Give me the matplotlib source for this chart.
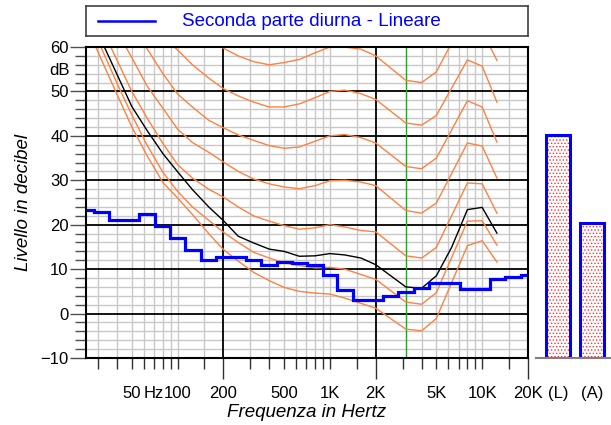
import matplotlib
matplotlib.use("Agg")
import matplotlib.pyplot as plt
import numpy as np
from matplotlib.ticker import FixedLocator, FixedFormatter

plt.rcParams['font.family'] = ['Liberation Sans', 'DejaVu Sans']
plt.rcParams['hatch.linewidth'] = 0.6

# Spettro misurato in bande di terzo d'ottava
bande = [25, 31.5, 40, 50, 63, 80, 100, 125, 160, 200,
         250, 315, 400, 500, 630, 800, 1000, 1250, 1600, 2000,
         2500, 3150, 4000, 5000, 6300, 8000, 10000, 12500, 16000, 20000]
livelli = [23.4, 22.8, 21.1, 21.0, 22.5, 19.7, 17.0, 14.4, 12.0, 12.7,
           12.8, 12.0, 11.0, 11.6, 11.3, 11.0, 8.6, 5.2, 3.0, 3.0,
           4.0, 4.9, 5.7, 6.8, 6.8, 5.6, 5.5, 7.7, 8.3, 8.7]

# Curve isofoniche (soglia, 10 ... 60 phon)
f_iso = [25, 31.5, 40, 50, 63, 80, 100, 125, 160, 200,
         250, 315, 400, 500, 630, 800, 1000, 1250, 1600, 2000,
         3150, 4000, 5000, 8000, 10000, 12500]
soglia = [65.0, 57.2, 49.3, 42.0, 35.5, 29.5, 26.0, 22.3, 18.0, 14.4,
          11.8, 9.3, 7.4, 5.9, 5.0, 4.6, 4.4, 3.5, 2.3, 1.2,
          -3.5, -3.9, -1.1, 15.3, 16.4, 11.6]
phon10 = [67.3, 59.8, 51.8, 44.7, 37.9, 31.8, 27.5, 24.0, 21.0, 18.3,
          16.0, 13.8, 12.5, 11.4, 10.8, 10.3, 10.4, 10.0, 8.8, 7.7,
          2.6, 2.1, 4.7, 20.8, 20.9, 15.4]
phon20 = [70.5, 64.5, 57.0, 50.0, 44.0, 38.3, 33.5, 30.5, 28.0, 26.2,
          24.0, 22.0, 20.8, 19.8, 19.0, 19.3, 20.0, 19.5, 18.7, 18.4,
          13.0, 12.5, 14.9, 29.4, 29.2, 22.6]
phon30 = [76.0, 69.9, 63.5, 57.6, 51.2, 46.2, 41.5, 38.5, 36.3, 34.1,
          32.0, 30.3, 29.2, 28.5, 28.1, 28.8, 29.9, 30.0, 29.6, 28.8,
          23.2, 22.6, 24.9, 38.4, 37.7, 30.5]
phon40 = [81.0, 75.7, 70.2, 65.0, 59.6, 54.0, 49.4, 46.5, 43.5, 41.8,
          40.2, 39.0, 37.8, 37.2, 37.5, 38.8, 40.0, 40.3, 39.6, 38.4,
          33.1, 32.6, 35.0, 47.9, 46.5, 38.6]
phon50 = [88.0, 83.0, 77.0, 71.5, 66.5, 62.3, 59.3, 56.0, 53.0, 50.6,
          49.0, 47.6, 46.5, 46.5, 47.2, 48.6, 50.0, 50.3, 49.5, 48.2,
          42.9, 42.4, 44.6, 57.1, 55.7, 47.6]
phon60 = [95.0, 92.0, 88.0, 84.0, 79.0, 75.0, 70.5, 66.5, 62.0, 59.7,
          58.0, 56.7, 56.0, 56.5, 57.2, 58.7, 60.0, 60.0, 59.5, 58.0,
          52.5, 52.0, 54.4, 67.7, 63.6, 57.0]

# Curva nera
f_nero = [31.5, 40, 50, 63, 80, 100, 125, 160, 200, 250,
          315, 400, 500, 630, 800, 1000, 1250, 1600, 2000, 3150,
          4000, 5000, 6300, 8000, 10000, 12500]
nero = [61.5, 53.8, 46.6, 41.2, 36.0, 31.9, 27.9, 24.0, 20.9, 17.4,
        15.9, 14.5, 14.0, 12.9, 13.0, 13.5, 13.2, 12.5, 11.0, 6.0,
        5.7, 8.5, 14.9, 23.4, 23.9, 18.1]

# Livelli globali
barre_lab = ['(L)', '(A)']
barre_val = [40.1, 20.4]

# tacche asse x
tacche_magg = [200, 2000, 20000]
etich_magg = ['200', '2K', '20K']
tacche_min = [30, 40, 50, 60, 70, 80, 90, 100, 150, 300, 400, 500, 600, 700, 800, 900,
              1000, 1500, 3000, 4000, 5000, 6000, 7000, 8000, 9000, 10000, 15000]
etich_min = {50: '50', 70: 'Hz', 100: '100', 500: '500', 1000: '1K', 5000: '5K', 10000: '10K'}

W, H = 611, 425
fig = plt.figure(figsize=(W / 100, H / 100), dpi=100)
ax = fig.add_axes([86 / W, 1 - 358 / H, 442 / W, 311 / H])
ax.set_xscale('log')
ax.set_xlim(25, 20000)
ax.set_ylim(-10, 60)

# griglia
for y in range(-10, 61, 2):
    if y % 10:
        ax.axhline(y, color='#c8c8c8', lw=1, zorder=0.5)
for f in tacche_min:
    if f != 3000:
        ax.axvline(f, color='#c8c8c8', lw=1, zorder=0.6)
for y in range(-10, 61, 10):
    ax.axhline(y, color='black', lw=1.3, zorder=1)
for f in [200, 2000]:
    ax.axvline(f, color='black', lw=1.3, zorder=1)
ax.axvline(3150, color='#2e9a2e', lw=1, zorder=1)

# curve isofoniche
for c in [soglia, phon10, phon20, phon30, phon40, phon50, phon60]:
    ax.plot(f_iso, c, color='#ff8040', lw=1, zorder=2)
ax.plot(f_nero, nero, color='black', lw=1, zorder=2.1)

# spettro a gradini
fb = np.array(bande, dtype=float)
r = 10 ** 0.05
bordi = np.concatenate([[fb[0] / r], np.sqrt(fb[:-1] * fb[1:]), [fb[-1] * r]])
ax.stairs(livelli, bordi, baseline=None, color='#0000ff', lw=2.3, zorder=3)

# assi
ax.xaxis.set_major_locator(FixedLocator(tacche_magg))
ax.xaxis.set_major_formatter(FixedFormatter(etich_magg))
ax.xaxis.set_minor_locator(FixedLocator(tacche_min))
ax.xaxis.set_minor_formatter(FixedFormatter([etich_min.get(f, '') for f in tacche_min]))
ax.tick_params(axis='x', which='major', length=15, width=1, pad=5, labelsize=12, color='#303030')
ax.tick_params(axis='x', which='minor', length=8, width=1, pad=12.2, labelsize=12, color='#303030')

ax.yaxis.set_major_locator(FixedLocator(range(-10, 61, 10)))
ax.yaxis.set_minor_locator(FixedLocator(range(-10, 61, 2)))
ax.tick_params(axis='y', which='major', length=11.5, width=1, pad=1, labelsize=12, color='#505050')
ax.tick_params(axis='y', which='minor', length=8, width=1, color='#505050')
ax.text(-0.036, 54.6, 'dB', transform=ax.get_yaxis_transform(), ha='right', va='center', fontsize=12)

for s in ax.spines.values():
    s.set_linewidth(1.5)
    s.set_zorder(4)

ax.set_xlabel('Frequenza in Hertz', fontsize=13.5, style='italic', labelpad=2)
ax.set_ylabel('Livello in decibel', fontsize=13.5, style='italic', labelpad=6)

# barre livelli globali
axb = fig.add_axes([536 / W, 1 - 358 / H, 75 / W, 311 / H])
axb.set_xlim(-0.647, 1.559)
axb.set_ylim(-10, 60)
pos = np.arange(len(barre_val))
alt = [v + 10 for v in barre_val]
axb.bar(pos, alt, bottom=-10, width=0.68, color='white', edgecolor='#ff3030', hatch='.....', lw=0)
axb.bar(pos, alt, bottom=-10, width=0.68, fill=False, edgecolor='#0000ff', lw=2.2)
for k in ['left', 'right', 'top']:
    axb.spines[k].set_visible(False)
axb.spines['bottom'].set_color('#808080')
axb.spines['bottom'].set_linewidth(1.5)
axb.set_yticks([])
axb.set_xticks(pos)
axb.set_xticklabels(barre_lab, fontsize=12)
axb.tick_params(axis='x', length=0, pad=20)
axb.patch.set_alpha(0)

# legenda
axl = fig.add_axes([86 / W, 1 - 36 / H, 442 / W, 30 / H])
axl.set_xlim(0, 1)
axl.set_ylim(0, 1)
axl.set_xticks([])
axl.set_yticks([])
for s in axl.spines.values():
    s.set_color('#404040')
    s.set_linewidth(1.2)
axl.plot([0.028, 0.157], [0.5, 0.5], color='#0000ff', lw=1.8)
axl.text(0.217, 0.5, 'Seconda parte diurna - Lineare', color='#0000ff', fontsize=13.5,
         ha='left', va='center')

fig.savefig('out.png', dpi=100)
